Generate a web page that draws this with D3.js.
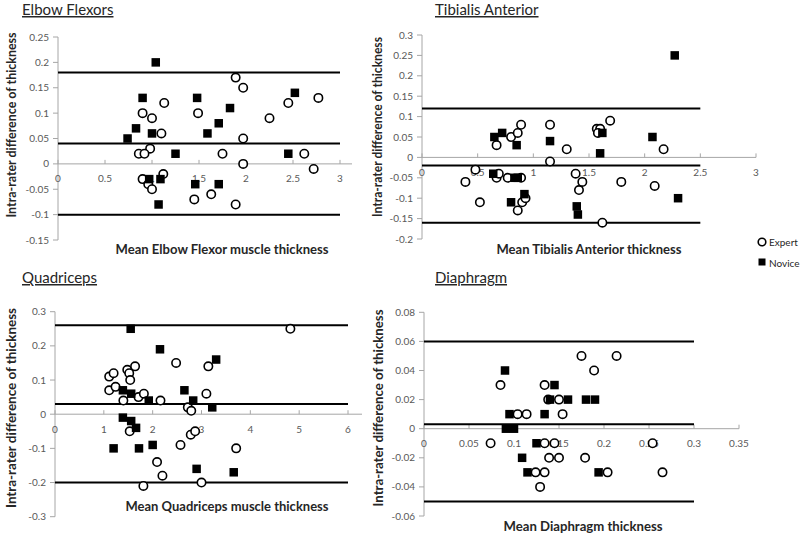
<!DOCTYPE html>
<html>
<head>
<meta charset="utf-8">
<script src="https://cdn.jsdelivr.net/npm/d3@7/dist/d3.min.js"></script>
<style>
  html, body { margin: 0; padding: 0; background: #fff; }
  svg { display: block; font-family: Lato, "Open Sans", sans-serif; }
</style>
</head>
<body>
<svg id="chart" width="800" height="535"></svg>
<script>
// ---- data: [mean thickness, intra-rater difference]
const elbowExpert = [[0.90,0.10],[1.00,0.09],[1.13,0.12],[1.10,0.06],[0.98,0.03],[0.86,0.02],[0.92,0.02],[0.90,-0.03],[0.96,-0.04],[1.00,-0.05],[1.12,-0.02],[1.49,0.10],[1.75,0.02],[1.45,-0.07],[1.63,-0.06],[1.89,-0.08],[1.89,0.17],[1.97,0.15],[1.97,0.05],[1.97,0.00],[2.25,0.09],[2.45,0.12],[2.62,0.02],[2.72,-0.01],[2.77,0.13]];
const elbowNovice = [[1.04,0.20],[0.90,0.13],[0.83,0.07],[0.74,0.05],[1.00,0.06],[1.25,0.02],[0.97,-0.03],[1.09,-0.03],[1.07,-0.08],[1.48,0.13],[1.59,0.06],[1.71,0.08],[1.83,0.11],[1.46,-0.04],[1.71,-0.04],[2.52,0.14],[2.45,0.02]];
const elbowLimits = [0.18, 0.04, -0.1];

const tibExpert = [[0.67,0.03],[0.80,0.05],[0.86,0.06],[0.89,0.08],[1.15,0.08],[1.30,0.02],[1.15,-0.01],[1.57,0.07],[1.60,0.07],[1.58,0.06],[1.69,0.09],[2.17,0.02],[0.48,-0.03],[0.39,-0.06],[0.52,-0.11],[0.67,-0.05],[0.69,-0.04],[0.77,-0.05],[0.89,-0.05],[0.86,-0.13],[0.90,-0.11],[0.93,-0.10],[1.38,-0.04],[1.44,-0.06],[1.41,-0.08],[1.79,-0.06],[2.09,-0.07],[1.62,-0.16]];
const tibNovice = [[2.27,0.25],[0.65,0.05],[0.72,0.06],[0.85,0.03],[1.15,0.04],[1.62,0.06],[1.60,0.01],[2.07,0.05],[0.64,-0.04],[0.83,-0.05],[0.86,-0.05],[0.92,-0.09],[0.80,-0.11],[1.39,-0.12],[1.40,-0.14],[2.30,-0.10]];
const tibLimits = [0.12, -0.02, -0.16];

const quadExpert = [[4.82,0.25],[1.11,0.11],[1.20,0.12],[1.11,0.07],[1.24,0.08],[1.48,0.13],[1.52,0.12],[1.54,0.10],[1.64,0.14],[1.40,0.04],[1.71,0.05],[1.82,0.06],[2.16,0.04],[2.48,0.15],[3.14,0.14],[3.10,0.06],[2.72,0.02],[2.79,0.01],[1.53,-0.05],[2.78,-0.06],[2.87,-0.05],[2.57,-0.09],[2.09,-0.14],[2.20,-0.18],[1.81,-0.21],[3.00,-0.20],[3.71,-0.10]];
const quadNovice = [[1.55,0.25],[2.15,0.19],[3.30,0.16],[1.39,0.07],[1.56,0.06],[1.92,0.04],[2.65,0.07],[2.83,0.04],[3.22,0.02],[1.39,-0.01],[1.56,-0.02],[1.66,-0.04],[1.20,-0.10],[1.72,-0.10],[2.00,-0.09],[2.90,-0.16],[3.66,-0.17]];
const quadLimits = [0.26, 0.03, -0.2];

const diaExpert = [[0.175,0.05],[0.214,0.05],[0.189,0.04],[0.085,0.03],[0.134,0.03],[0.150,0.02],[0.138,0.02],[0.104,0.01],[0.114,0.01],[0.154,0.01],[0.074,-0.01],[0.134,-0.01],[0.145,-0.01],[0.254,-0.01],[0.139,-0.02],[0.150,-0.02],[0.179,-0.02],[0.124,-0.03],[0.134,-0.03],[0.204,-0.03],[0.265,-0.03],[0.129,-0.04]];
const diaNovice = [[0.090,0.04],[0.145,0.03],[0.140,0.02],[0.160,0.02],[0.180,0.02],[0.190,0.02],[0.095,0.01],[0.134,0.01],[0.091,0],[0.100,0],[0.125,-0.01],[0.109,-0.02],[0.115,-0.03],[0.194,-0.03]];
const diaLimits = [0.06, 0.003, -0.05];

// ticks
const elbowXTicks = [0, 0.5, 1, 1.5, 2, 2.5, 3];
const elbowYTicks = [-0.15, -0.1, -0.05, 0, 0.05, 0.1, 0.15, 0.2, 0.25];
const tibXTicks = [0, 0.5, 1, 1.5, 2, 2.5, 3];
const tibYTicks = [-0.2, -0.15, -0.1, -0.05, 0, 0.05, 0.1, 0.15, 0.2, 0.25, 0.3];
const quadXTicks = [0, 1, 2, 3, 4, 5, 6];
const quadYTicks = [-0.3, -0.2, -0.1, 0, 0.1, 0.2, 0.3];
const diaXTicks = [0, 0.05, 0.1, 0.15, 0.2, 0.25, 0.3, 0.35];
const diaYTicks = [-0.06, -0.04, -0.02, 0, 0.02, 0.04, 0.06, 0.08];

const titles = ["Elbow Flexors", "Tibialis Anterior", "Quadriceps", "Diaphragm"];
const xTitles = ["Mean Elbow Flexor muscle thickness", "Mean Tibialis Anterior thickness",
  "Mean Quadriceps muscle thickness", "Mean Diaphragm thickness"];
const yTitle = "Intra-rater difference of thickness";
const seriesNames = ["Expert", "Novice"];

// layout per panel (pixel positions measured on the reference)
const panels = [
  { title: titles[0], xt: xTitles[0], expert: elbowExpert, novice: elbowNovice, limits: elbowLimits, limitEnd: 3,
    xTicks: elbowXTicks, yTicks: elbowYTicks, xr: [58, 340], yr: [240, 37], extra: 12,
    tx: 22, ty: 15, xtX: 222, xtY: 254, xtW: 213, ytX: 16, ytY: 125, ytW: 185 },
  { title: titles[1], xt: xTitles[1], expert: tibExpert, novice: tibNovice, limits: tibLimits, limitEnd: 2.5,
    xTicks: tibXTicks, yTicks: tibYTicks, xr: [422, 756], yr: [239, 35], extra: 0,
    tx: 435, ty: 15, xtX: 589, xtY: 254, xtW: 185, ytX: 382, ytY: 127, ytW: 180 },
  { title: titles[2], xt: xTitles[2], expert: quadExpert, novice: quadNovice, limits: quadLimits, limitEnd: 6,
    xTicks: quadXTicks, yTicks: quadYTicks, xr: [55, 348], yr: [516.7, 311.7], extra: 14,
    tx: 22, ty: 283, xtX: 227, xtY: 511, xtW: 203, ytX: 16, ytY: 408, ytW: 200 },
  { title: titles[3], xt: xTitles[3], expert: diaExpert, novice: diaNovice, limits: diaLimits, limitEnd: 0.3,
    xTicks: diaXTicks, yTicks: diaYTicks, xr: [424, 739], yr: [516, 312.3], extra: 0,
    tx: 435, ty: 283, xtX: 583, xtY: 531, xtW: 159, ytX: 383, ytY: 408, ytW: 197 },
];

const svg = d3.select("#chart");
const axisCol = "#a6a6a6", labCol = "#595959";

panels.forEach((p) => {
  const x = d3.scaleLinear().domain(d3.extent(p.xTicks)).range(p.xr);
  const y = d3.scaleLinear().domain(d3.extent(p.yTicks)).range(p.yr);
  const g = svg.append("g");

  // title
  g.append("text").attr("x", p.tx).attr("y", p.ty).attr("font-size", 15).attr("fill", "#262626")
    .attr("text-decoration", "underline").text(p.title);

  // y axis
  g.append("line").attr("x1", x(0)).attr("x2", x(0)).attr("y1", y.range()[0]).attr("y2", y.range()[1])
    .attr("stroke", axisCol);
  g.selectAll("line.yt").data(p.yTicks).join("line").attr("class", "yt")
    .attr("x1", x(0) - 5).attr("x2", x(0)).attr("y1", (d) => y(d)).attr("y2", (d) => y(d))
    .attr("stroke", axisCol);
  g.selectAll("text.yl").data(p.yTicks).join("text").attr("class", "yl")
    .attr("x", x(0) - 9).attr("y", (d) => y(d)).attr("dy", ".35em").attr("text-anchor", "end")
    .attr("font-size", 10).attr("fill", labCol).text((d) => String(d));

  // x axis at zero
  g.append("line").attr("x1", x.range()[0]).attr("x2", x.range()[1] + p.extra)
    .attr("y1", y(0)).attr("y2", y(0)).attr("stroke", axisCol);
  g.selectAll("line.xt").data(p.xTicks).join("line").attr("class", "xt")
    .attr("x1", (d) => x(d)).attr("x2", (d) => x(d)).attr("y1", y(0) - 4).attr("y2", y(0))
    .attr("stroke", axisCol);
  g.selectAll("text.xl").data(p.xTicks).join("text").attr("class", "xl")
    .attr("x", (d) => x(d)).attr("y", y(0) + 15).attr("dy", ".35em").attr("text-anchor", "middle")
    .attr("font-size", 10).attr("fill", labCol).text((d) => String(d));

  // limits of agreement and mean difference
  g.selectAll("line.lim").data(p.limits).join("line").attr("class", "lim")
    .attr("x1", x(0)).attr("x2", x(p.limitEnd)).attr("y1", (d) => y(d)).attr("y2", (d) => y(d))
    .attr("stroke", "#000").attr("stroke-width", 2);

  // points
  g.selectAll("circle").data(p.expert).join("circle")
    .attr("cx", (d) => x(d[0])).attr("cy", (d) => y(d[1])).attr("r", 4.2)
    .attr("fill", "#fff").attr("stroke", "#000").attr("stroke-width", 1.6);
  const s = 8.5;
  g.selectAll("rect").data(p.novice).join("rect")
    .attr("x", (d) => x(d[0]) - s / 2).attr("y", (d) => y(d[1]) - s / 2)
    .attr("width", s).attr("height", s).attr("fill", "#000");

  // axis titles
  g.append("text").attr("x", p.xtX).attr("y", p.xtY).attr("text-anchor", "middle")
    .attr("font-size", 13).attr("font-weight", 700).attr("fill", "#262626")
    .attr("textLength", p.xtW).attr("lengthAdjust", "spacingAndGlyphs").text(p.xt);
  g.append("text").attr("transform", `translate(${p.ytX},${p.ytY}) rotate(-90)`)
    .attr("text-anchor", "middle").attr("font-size", 12.5).attr("font-weight", 700).attr("fill", "#262626")
    .attr("textLength", p.ytW).attr("lengthAdjust", "spacingAndGlyphs").text(yTitle);
});

// legend
const lg = svg.append("g").attr("transform", "translate(762,242)");
lg.append("circle").attr("cx", 0).attr("cy", 0).attr("r", 3.8)
  .attr("fill", "#fff").attr("stroke", "#000").attr("stroke-width", 1.6);
lg.append("rect").attr("x", -3.5).attr("y", 20 - 3.5).attr("width", 7).attr("height", 7).attr("fill", "#000");
lg.selectAll("text").data(seriesNames).join("text")
  .attr("x", 7).attr("y", (d, i) => i * 21).attr("dy", ".35em")
  .attr("font-size", 10).attr("fill", "#262626").text((d) => d);
</script>
</body>
</html>
